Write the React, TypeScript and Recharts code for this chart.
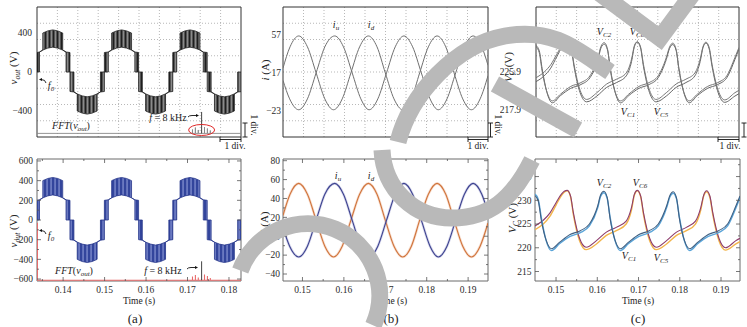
import React from 'react';
import { ComposedChart, Line, Area, XAxis, YAxis, CartesianGrid, ReferenceArea, ReferenceDot } from 'recharts';

const FONT = '"Liberation Serif","Times New Roman",serif';

// ---------------- (a) output voltage: switching band (lower / upper level) ----------------
const vTime = [
  0.1337, 0.1343, 0.1343, 0.1351, 0.1351, 0.1363, 0.1375, 0.1387, 0.1399, 0.1399, 0.1407, 0.1407, 0.14165,
  0.14165, 0.1426, 0.1426, 0.1434, 0.1434, 0.1446, 0.1458, 0.147, 0.1482, 0.1482, 0.149, 0.149, 0.14995,
  0.14995, 0.1509, 0.1509, 0.1517, 0.1517, 0.1529, 0.1541, 0.1553, 0.1565, 0.1565, 0.1573, 0.1573, 0.1582,
  0.1582, 0.1591, 0.1591, 0.1599, 0.1599, 0.1611, 0.1623, 0.1635, 0.1647, 0.1647, 0.1655, 0.1655, 0.16645,
  0.16645, 0.1674, 0.1674, 0.1682, 0.1682, 0.1694, 0.1706, 0.1718, 0.173, 0.173, 0.1738, 0.1738, 0.17475,
  0.17475, 0.1757, 0.1757, 0.1765, 0.1765, 0.1777, 0.1789, 0.1801, 0.1813, 0.1813, 0.1821, 0.1821, 0.1829,
];
const vLow = [
  0, 0, 205, 225, 225, 245, 255, 245, 225, 225, 205, 0, 0,
  -200, -205, -205, -225, -400, -422, -432, -422, -400, -225, -205, -205, -200,
  0, 0, 205, 225, 225, 245, 255, 245, 225, 225, 205, 0, 0,
  -200, -205, -205, -225, -400, -422, -432, -422, -400, -225, -205, -205, -200,
  0, 0, 205, 225, 225, 245, 255, 245, 225, 225, 205, 0, 0,
  -200, -205, -205, -225, -400, -422, -432, -422, -400, -225, -205, -205, -202,
];
const vHigh = [
  200, 205, 205, 225, 400, 422, 432, 422, 400, 225, 205, 205, 200,
  0, 0, -205, -225, -225, -245, -255, -245, -225, -225, -205, 0, 0,
  200, 205, 205, 225, 400, 422, 432, 422, 400, 225, 205, 205, 200,
  0, 0, -205, -225, -225, -245, -255, -245, -225, -225, -205, 0, 0,
  200, 205, 205, 225, 400, 422, 432, 422, 400, 225, 205, 205, 200,
  0, 0, -205, -225, -225, -245, -255, -245, -225, -225, -205, 0, 0,
];

// FFT spikes
const fftBottomTime = [0.1338, 0.1712, 0.1719, 0.1726, 0.1741, 0.1748, 0.1755];
const fftBottomMag = [-27, -575, -560, -585, -555, -570, -590];
const fftBottomBase = -612;
const fftTopTime = [0.1712, 0.1719, 0.1726, 0.1741, 0.1748, 0.1755];
const fftTopMag = [-590, -570, -595, -565, -580, -600];
const fftTopBase = -630;
const marker8kTime = 0.1734;
const marker8kTopTip = -410;
const marker8kBottomTip = -420;
const ellipseLevel = -595;

// ---------------- (b) currents ----------------
const idTime = [0.1453, 0.147, 0.1491, 0.1512, 0.1533, 0.1554, 0.1575, 0.1596, 0.1617, 0.1638, 0.1659, 0.168, 0.17,
  0.1721, 0.1742, 0.1763, 0.1783, 0.1804, 0.1825, 0.1846, 0.1866, 0.1887, 0.1908, 0.1929, 0.1948];
const idValue = [22, 44.5, 56, 44.5, 17, -10.5, -22, -10.5, 17, 44.5, 56, 44.5, 17,
  -10.5, -22, -10.5, 17, 44.5, 56, 44.5, 17, -10.5, -22, -10.5, 14];
const iuTime = [0.1453, 0.1469, 0.1491, 0.1512, 0.1533, 0.1554, 0.1578, 0.1599, 0.162, 0.1641, 0.1661, 0.1682, 0.1703,
  0.1724, 0.1745, 0.1766, 0.1787, 0.1808, 0.1828, 0.1849, 0.187, 0.1891, 0.1912, 0.1933, 0.1948];
const iuValue = [9, -10.5, -22, -10.5, 17, 44.5, 56, 44.5, 17, -10.5, -22, -10.5, 17,
  44.5, 56, 44.5, 17, -10.5, -22, -10.5, 17, 44.5, 56, 44.5, 25];

// ---------------- (c) capacitor voltages ----------------
const cxTime = [0.1449, 0.1457, 0.1464, 0.1476, 0.1489, 0.1509, 0.1534, 0.1559, 0.1581, 0.1601, 0.1608, 0.1616, 0.1624,
  0.1631, 0.1643, 0.1656, 0.1676, 0.1701, 0.1726, 0.1748, 0.1768, 0.1776, 0.1784, 0.1792, 0.1799, 0.1811, 0.1824,
  0.1844, 0.1869, 0.1894, 0.1916, 0.1936, 0.1946];
const vc1 = [231.3, 230.2, 226.5, 221.5, 219.4, 220.9, 222.4, 223.2, 224.6, 228.4, 230.8, 231.6, 230.4,
  226.5, 221.5, 219.4, 220.9, 222.4, 223.2, 224.6, 228.4, 230.7, 231.5, 230.3, 226.5, 221.5, 219.4,
  220.9, 222.4, 223.2, 224.6, 228.4, 230.6];
const vc2 = [231.0, 229.8, 226.0, 221.6, 219.8, 221.2, 222.8, 223.6, 225.0, 228.8, 231.1, 231.9, 230.6,
  226.2, 221.6, 219.8, 221.2, 222.8, 223.6, 225.0, 228.8, 231.0, 231.8, 230.5, 226.2, 221.6, 219.8,
  221.2, 222.8, 223.6, 225.0, 228.8, 230.9];
const cyTime = [0.1449, 0.1469, 0.1485, 0.15, 0.1513, 0.152, 0.1527, 0.1535, 0.1542, 0.1557, 0.1573, 0.1598, 0.1622,
  0.1646, 0.167, 0.1683, 0.169, 0.1697, 0.1705, 0.1712, 0.1727, 0.1743, 0.1768, 0.1792, 0.1816, 0.1838, 0.1851,
  0.1858, 0.1865, 0.1873, 0.188, 0.1895, 0.1911, 0.1936, 0.1946];
const vc5 = [223.8, 225.0, 226.6, 229.0, 231.0, 231.7, 232.0, 230.8, 227.0, 221.5, 219.6, 220.8, 222.6,
  223.6, 225.0, 228.0, 231.1, 232.0, 230.8, 227.0, 221.5, 219.6, 220.8, 222.6, 223.6, 225.0, 228.0,
  230.9, 231.8, 230.6, 227.0, 221.5, 219.5, 220.8, 221.3];
const vc6 = [224.6, 225.8, 227.3, 229.5, 231.3, 231.9, 232.1, 231.0, 227.4, 222.0, 220.1, 221.5, 223.3,
  224.3, 225.6, 228.5, 231.3, 232.1, 231.0, 227.4, 222.0, 220.1, 221.5, 223.3, 224.3, 225.6, 228.5,
  231.1, 232.0, 230.9, 227.4, 222.0, 220.0, 221.5, 222.0];

// ---------------- ticks ----------------
const aTopYTicks = [-400, 0, 400];
const aBotYMajor = [-600, -400, -200, 0, 200, 400, 600];
const aBotYMinor = [-500, -300, -100, 100, 300, 500];
const aXMajor = [0.14, 0.15, 0.16, 0.17, 0.18];
const aXMinor = [0.135, 0.145, 0.155, 0.165, 0.175];
const bTopYTicks = [-23, 17, 57];
const bBotYMajor = [-40, -20, 0, 20, 40, 60, 80];
const bBotYMinor = [-30, -10, 10, 30, 50, 70];
const bcXMajor = [0.15, 0.16, 0.17, 0.18, 0.19];
const bcXMinor = [0.155, 0.165, 0.175, 0.185];
const cTopYTicks = [217.9, 225.9, 233.9];
const cBotYMajor = [215, 220, 225, 230, 235];
const cBotYMinor = [217.5, 222.5, 227.5, 232.5, 237.5];

const aDomainX: [number, number] = [0.1337, 0.1829];
const bDomainX: [number, number] = [0.1453, 0.1948];
const cDomainX: [number, number] = [0.1449, 0.1946];

// ---------------- derived series ----------------
const aData = vTime.map((t, i) => ({ t, band: [vLow[i], vHigh[i]] }));
function spikes(times: number[], mags: number[], base: number, start: number, end: number) {
  const pts: { t: number; v: number }[] = [{ t: start, v: base }];
  times.forEach((t, i) => {
    pts.push({ t, v: base }, { t, v: mags[i] }, { t, v: base });
  });
  pts.push({ t: end, v: base });
  return pts;
}
const fftBottom = spikes(fftBottomTime, fftBottomMag, fftBottomBase, vTime[0], vTime[vTime.length - 1]);
const fftTop = spikes(fftTopTime, fftTopMag, fftTopBase, vTime[0], vTime[vTime.length - 1]);
const markBottom = [{ t: marker8kTime, v: fftBottomBase }, { t: marker8kTime, v: marker8kBottomTip }];
const markTop = [{ t: marker8kTime, v: fftTopBase }, { t: marker8kTime, v: marker8kTopTip }];
const series = (ts: number[], vs: number[]) => ts.map((t, i) => ({ t, v: vs[i] }));
const idData = series(idTime, idValue);
const iuData = series(iuTime, iuValue);
const vc1Data = series(cxTime, vc1);
const vc2Data = series(cxTime, vc2);
const vc5Data = series(cyTime, vc5);
const vc6Data = series(cyTime, vc6);

const minus = (s: string) => s.replace('-', '\u2212');

type Margin = { top: number; right: number; bottom: number; left: number };
interface PanelProps {
  left: number; top: number; width: number; height: number; margin: Margin;
  yAxisWidth: number; showX: boolean; xDomain: [number, number]; yDomain: [number, number];
  xMajor: number[]; xMinor: number[]; yMajor: number[]; yMinor: number[];
  yGap: number; yFmt: (v: number) => string; frame: string; inner: boolean; grid: boolean;
  data?: any[]; children?: React.ReactNode;
}

const isIn = (arr: number[], v: number) => arr.some((m) => Math.abs(m - v) < 1e-7);

function Panel(p: PanelProps) {
  const plotTop = p.margin.top;
  const plotRight = p.width - p.margin.right;
  const yTick = (props: any) => {
    const { x, y, payload } = props;
    const v = payload.value;
    const major = isIn(p.yMajor, v);
    const len = major ? 4 : 2;
    return (
      <g>
        {p.inner ? <line x1={x} x2={x + len} y1={y} y2={y} stroke="#555" strokeWidth={0.8} /> : null}
        {p.inner ? <line x1={plotRight} x2={plotRight - len} y1={y} y2={y} stroke="#555" strokeWidth={0.8} /> : null}
        {major ? (
          <text x={x - p.yGap} y={y} dy="0.35em" textAnchor="end" fontSize={9.5} fontFamily={FONT} fill="#2a2a2a">
            {p.yFmt(v)}
          </text>
        ) : null}
      </g>
    );
  };
  const xTick = (props: any) => {
    const { x, y, payload } = props;
    const v = payload.value;
    const major = isIn(p.xMajor, v);
    const len = major ? 4 : 2;
    return (
      <g>
        <line x1={x} x2={x} y1={y} y2={y - len} stroke="#555" strokeWidth={0.8} />
        <line x1={x} x2={x} y1={plotTop} y2={plotTop + len} stroke="#555" strokeWidth={0.8} />
        {major ? (
          <text x={x} y={y + 8.5} dy="0.35em" textAnchor="middle" fontSize={9.5} fontFamily={FONT} fill="#2a2a2a">
            {v.toFixed(2)}
          </text>
        ) : null}
      </g>
    );
  };
  const xTicks = [...p.xMajor, ...p.xMinor].sort((a, b) => a - b);
  const yTicks = [...p.yMajor, ...p.yMinor].sort((a, b) => a - b);
  return (
    <div style={{ position: 'absolute', left: p.left, top: p.top, width: p.width, height: p.height }}>
      <ComposedChart width={p.width} height={p.height} margin={p.margin} data={p.data}>
        {p.grid ? (
          <CartesianGrid
            stroke="#9a9a9a"
            strokeDasharray="1 2"
            strokeWidth={0.7}
            verticalCoordinatesGenerator={({ offset }: any) =>
              Array.from({ length: 9 }, (_, i) => offset.left + (offset.width * (i + 1)) / 10)
            }
            horizontalCoordinatesGenerator={({ offset }: any) =>
              Array.from({ length: 7 }, (_, i) => offset.top + (offset.height * (i + 1)) / 8)
            }
          />
        ) : null}
        <XAxis
          type="number"
          dataKey="t"
          domain={p.xDomain}
          allowDataOverflow
          hide={!p.showX}
          height={20}
          ticks={xTicks}
          interval={0}
          tickSize={0}
          tickMargin={0}
          axisLine={false}
          tickLine={false}
          tick={xTick}
        />
        <YAxis
          type="number"
          domain={p.yDomain}
          allowDataOverflow
          width={p.yAxisWidth}
          ticks={yTicks}
          interval={0}
          tickSize={0}
          tickMargin={0}
          axisLine={false}
          tickLine={false}
          tick={yTick}
        />
        <ReferenceArea
          x1={p.xDomain[0]}
          x2={p.xDomain[1]}
          y1={p.yDomain[0]}
          y2={p.yDomain[1]}
          fill="none"
          stroke={p.frame}
          strokeWidth={1}
          ifOverflow="visible"
        />
        {p.children}
      </ComposedChart>
    </div>
  );
}

function Txt(props: { x: number; y: number; size?: number; italic?: boolean; rotate?: number; color?: string; children: React.ReactNode }) {
  const { x, y, size = 10, italic = false, rotate = 0, color = '#222' } = props;
  return (
    <div
      style={{
        position: 'absolute', left: x, top: y,
        transform: `translate(-50%,-50%)${rotate ? ` rotate(${rotate}deg)` : ''}`,
        fontFamily: FONT, fontSize: size, fontStyle: italic ? 'italic' : 'normal',
        whiteSpace: 'nowrap', lineHeight: 1, color,
      }}
    >
      {props.children}
    </div>
  );
}
const Sub = (props: { children: React.ReactNode }) => (
  <span style={{ fontSize: '0.7em', position: 'relative', top: '0.35em' }}>{props.children}</span>
);
const I = (props: { children: React.ReactNode }) => <span style={{ fontStyle: 'italic' }}>{props.children}</span>;

const ellipseShape = (props: any) => (
  <ellipse cx={props.cx} cy={props.cy} rx={13} ry={5.5} fill="none" stroke="#e02828" strokeWidth={1} />
);

export default function App() {
  const W = '#b9b9b9';
  return (
    <div style={{ position: 'absolute', left: 0, top: 0, width: 747, height: 327, background: '#fff', overflow: 'hidden' }}>
      <svg width={0} height={0} style={{ position: 'absolute' }}>
        <defs>
          <pattern id="pwmBlue" patternUnits="userSpaceOnUse" width={4} height={8}>
            <rect width={4} height={8} fill="#33459c" />
            <rect x={2.5} width={1.1} height={8} fill="#8e9bd8" />
          </pattern>
          <pattern id="pwmGray" patternUnits="userSpaceOnUse" width={4} height={8}>
            <rect width={4} height={8} fill="#8a8a8a" />
            <rect x={0.5} width={2} height={8} fill="#1e1e1e" />
          </pattern>
        </defs>
      </svg>

      {/* (a) top */}
      <Panel left={0} top={0} width={250} height={150} margin={{ top: 7, right: 9, bottom: 13, left: 0 }} yAxisWidth={37}
        showX={false} xDomain={aDomainX} yDomain={[-667, 667]} xMajor={[]} xMinor={[]} yMajor={aTopYTicks} yMinor={[]}
        yGap={5} yFmt={(v) => minus(String(v))} frame="#333" inner={false} grid data={aData}>
        <Area dataKey="band" type="linear" stroke="#222" strokeWidth={0.8} fill="url(#pwmGray)" fillOpacity={1} isAnimationActive={false} />
        <Line data={fftTop} dataKey="v" type="linear" stroke="#888" strokeWidth={0.9} dot={false} isAnimationActive={false} />
        <Line data={markTop} dataKey="v" type="linear" stroke="#111" strokeWidth={0.8} dot={false} isAnimationActive={false} />
        <ReferenceDot x={marker8kTime} y={ellipseLevel} ifOverflow="visible" shape={ellipseShape} />
      </Panel>

      {/* (a) bottom */}
      <Panel left={0} top={150} width={250} height={160} margin={{ top: 9, right: 9, bottom: 9, left: 0 }} yAxisWidth={37}
        showX xDomain={aDomainX} yDomain={[-620, 620]} xMajor={aXMajor} xMinor={aXMinor} yMajor={aBotYMajor} yMinor={aBotYMinor}
        yGap={4} yFmt={(v) => minus(String(v))} frame="#6a6a6a" inner grid={false} data={aData}>
        <Area dataKey="band" type="linear" stroke="#26368a" strokeWidth={0.8} fill="url(#pwmBlue)" fillOpacity={1} isAnimationActive={false} />
        <Line data={fftBottom} dataKey="v" type="linear" stroke="#e86a6a" strokeWidth={1.1} dot={false} isAnimationActive={false} />
        <Line data={markBottom} dataKey="v" type="linear" stroke="#111" strokeWidth={0.8} dot={false} isAnimationActive={false} />
      </Panel>

      {/* (b) top */}
      <Panel left={250} top={0} width={250} height={150} margin={{ top: 7, right: 12, bottom: 13, left: 0 }} yAxisWidth={33}
        showX={false} xDomain={bDomainX} yDomain={[-50.8, 86.6]} xMajor={[]} xMinor={[]} yMajor={bTopYTicks} yMinor={[]}
        yGap={2} yFmt={(v) => minus(String(v))} frame="#333" inner={false} grid>
        <Line data={iuData} dataKey="v" type="monotone" stroke="#707070" strokeWidth={1} dot={false} isAnimationActive={false} />
        <Line data={idData} dataKey="v" type="monotone" stroke="#707070" strokeWidth={1} dot={false} isAnimationActive={false} />
      </Panel>

      {/* (b) bottom */}
      <Panel left={250} top={150} width={250} height={160} margin={{ top: 9, right: 12, bottom: 9, left: 0 }} yAxisWidth={33}
        showX xDomain={bDomainX} yDomain={[-47.4, 81.8]} xMajor={bcXMajor} xMinor={bcXMinor} yMajor={bBotYMajor} yMinor={bBotYMinor}
        yGap={3} yFmt={(v) => minus(String(v))} frame="#6a6a6a" inner grid={false}>
        <Line data={idData} dataKey="v" type="monotone" stroke="#e8a47a" strokeWidth={2.6} strokeOpacity={0.35} dot={false} isAnimationActive={false} />
        <Line data={idData} dataKey="v" type="monotone" stroke="#d0743c" strokeWidth={1.1} dot={false} isAnimationActive={false} />
        <Line data={iuData} dataKey="v" type="monotone" stroke="#8c90c8" strokeWidth={2.6} strokeOpacity={0.35} dot={false} isAnimationActive={false} />
        <Line data={iuData} dataKey="v" type="monotone" stroke="#3d428f" strokeWidth={1.1} dot={false} isAnimationActive={false} />
      </Panel>

      {/* (c) top */}
      <Panel left={500} top={0} width={247} height={150} margin={{ top: 7, right: 8, bottom: 13, left: 0 }} yAxisWidth={36}
        showX={false} xDomain={cDomainX} yDomain={[212.3, 239.3]} xMajor={[]} xMinor={[]} yMajor={cTopYTicks} yMinor={[]}
        yGap={15} yFmt={(v) => v.toFixed(1)} frame="#333" inner={false} grid>
        <Line data={vc1Data} dataKey="v" type="monotone" stroke="#666" strokeWidth={1} dot={false} isAnimationActive={false} />
        <Line data={vc2Data} dataKey="v" type="monotone" stroke="#777" strokeWidth={1} dot={false} isAnimationActive={false} />
        <Line data={vc5Data} dataKey="v" type="monotone" stroke="#666" strokeWidth={1} dot={false} isAnimationActive={false} />
        <Line data={vc6Data} dataKey="v" type="monotone" stroke="#777" strokeWidth={1} dot={false} isAnimationActive={false} />
      </Panel>

      {/* (c) bottom */}
      <Panel left={500} top={150} width={247} height={160} margin={{ top: 9, right: 7, bottom: 9, left: 0 }} yAxisWidth={35}
        showX xDomain={cDomainX} yDomain={[213, 238.7]} xMajor={bcXMajor} xMinor={bcXMinor} yMajor={cBotYMajor} yMinor={cBotYMinor}
        yGap={3.5} yFmt={(v) => String(v)} frame="#6a6a6a" inner grid={false}>
        <Line data={vc5Data} dataKey="v" type="monotone" stroke="#f2b44a" strokeWidth={1.4} dot={false} isAnimationActive={false} />
        <Line data={vc6Data} dataKey="v" type="monotone" stroke="#8c3c6c" strokeWidth={1.1} dot={false} isAnimationActive={false} />
        <Line data={vc1Data} dataKey="v" type="monotone" stroke="#5aa4d8" strokeWidth={1.4} dot={false} isAnimationActive={false} />
        <Line data={vc2Data} dataKey="v" type="monotone" stroke="#3f5f82" strokeWidth={1.1} dot={false} isAnimationActive={false} />
      </Panel>

      {/* axis titles */}
      <Txt x={13} y={68} size={11} rotate={-90}><I>v</I><Sub><I>out</I></Sub> (V)</Txt>
      <Txt x={13} y={231} size={11} rotate={-90}><I>v</I><Sub><I>out</I></Sub> (V)</Txt>
      <Txt x={265} y={70} size={11} rotate={-90}><I>i</I> (A)</Txt>
      <Txt x={264} y={222} size={11} rotate={-90}><I>i</I> (A)</Txt>
      <Txt x={508} y={67} size={11} rotate={-90}><I>V</I><Sub><I>C</I></Sub> (V)</Txt>
      <Txt x={512} y={218} size={11} rotate={-90}><I>V</I><Sub><I>C</I></Sub> (V)</Txt>

      {/* x titles and captions */}
      <Txt x={139} y={302} size={9.5}>Time (s)</Txt>
      <Txt x={391} y={302} size={9.5}>Time (s)</Txt>
      <Txt x={638} y={302} size={9.5}>Time (s)</Txt>
      <Txt x={135} y={318} size={13}>(a)</Txt>
      <Txt x={391} y={318} size={13}>(b)</Txt>
      <Txt x={638} y={318} size={13}>(c)</Txt>

      {/* (a) annotations */}
      <Txt x={51} y={86} size={10} italic>f<Sub>0</Sub></Txt>
      <Txt x={51} y={236} size={10} italic>f<Sub>0</Sub></Txt>
      <Txt x={71} y={126} size={10}><I>FFT</I>(<I>v</I><Sub><I>out</I></Sub>)</Txt>
      <Txt x={74} y={271} size={10}><I>FFT</I>(<I>v</I><Sub><I>out</I></Sub>)</Txt>
      <Txt x={168} y={118} size={10}><I>f</I> = 8 kHz</Txt>
      <Txt x={163} y={271} size={10}><I>f</I> = 8 kHz</Txt>

      {/* (b) labels */}
      <Txt x={336} y={25} size={10} italic>i<Sub>u</Sub></Txt>
      <Txt x={371} y={25} size={10} italic>i<Sub>d</Sub></Txt>
      <Txt x={338} y={176} size={10} italic>i<Sub>u</Sub></Txt>
      <Txt x={371} y={176} size={10} italic>i<Sub>d</Sub></Txt>

      {/* (c) labels */}
      <Txt x={604} y={32} size={10} italic>V<Sub>C2</Sub></Txt>
      <Txt x={637} y={32} size={10} italic>V<Sub>C6</Sub></Txt>
      <Txt x={628} y={112} size={10} italic>V<Sub>C1</Sub></Txt>
      <Txt x={661} y={112} size={10} italic>V<Sub>C5</Sub></Txt>
      <Txt x={604} y={183} size={10} italic>V<Sub>C2</Sub></Txt>
      <Txt x={640} y={183} size={10} italic>V<Sub>C6</Sub></Txt>
      <Txt x={629} y={256} size={10} italic>V<Sub>C1</Sub></Txt>
      <Txt x={661} y={258} size={10} italic>V<Sub>C5</Sub></Txt>

      {/* 1 div. labels */}
      <Txt x={235} y={147} size={9.5}>1 div.</Txt>
      <Txt x={478} y={147} size={9.5}>1 div.</Txt>
      <Txt x={730} y={147} size={9.5}>1 div.</Txt>
      <Txt x={253} y={125} size={9.5} rotate={90}>1 div.</Txt>
      <Txt x={497} y={125} size={9.5} rotate={90}>1 div.</Txt>

      {/* scale bars & arrows */}
      <svg width={747} height={327} style={{ position: 'absolute', left: 0, top: 0 }}>
        <g stroke="#111" strokeWidth={0.9} fill="none">
          <path d="M220 139.5 H241 M220 137 V142 M241 137 V142" />
          <path d="M468 139.5 H488 M468 137 V142 M488 137 V142" />
          <path d="M718 139.5 H739 M718 137 V142 M739 137 V142" />
          <path d="M245 123 V137 M242.5 123 H247.5 M242.5 137 H247.5" />
          <path d="M490.5 123 V137 M488 123 H493 M488 137 H493" />
          <path d="M744 123 V137 M741.5 123 H746.5 M741.5 137 H746.5" />
          <path d="M46 83 Q45.5 79.5 41 79.5" />
          <path d="M46 234 Q45.5 230.5 41 230.5" />
          <path d="M188 117 Q189 115.5 192 115.5 H197" />
          <path d="M187 269 Q188 267.5 191 267.5 H196" />
        </g>
        <g fill="#111">
          <path d="M39 79.5 L42 78 L42 81 Z" />
          <path d="M39 230.5 L42 229 L42 232 Z" />
          <path d="M199 115.5 L196 114 L196 117 Z" />
          <path d="M198 267.5 L195 266 L195 269 Z" />
        </g>
      </svg>

      {/* watermark */}
      <svg width={747} height={327} style={{ position: 'absolute', left: 0, top: 0 }}>
        <g stroke={W} strokeWidth={17} fill="none">
          <path d="M240.3 270.4 A72 72 0 1 1 373.3 325.4" />
          <path d="M398 142 C410 95 455 45 505 36 S580 52 610 72" />
          <path d="M382 150 C384 190 415 218 452 218 S512 200 532 160" />
          <path d="M495 84 L578 130" />
          <path d="M598 -8 L660 38 L694 -8" />
        </g>
      </svg>
    </div>
  );
}
